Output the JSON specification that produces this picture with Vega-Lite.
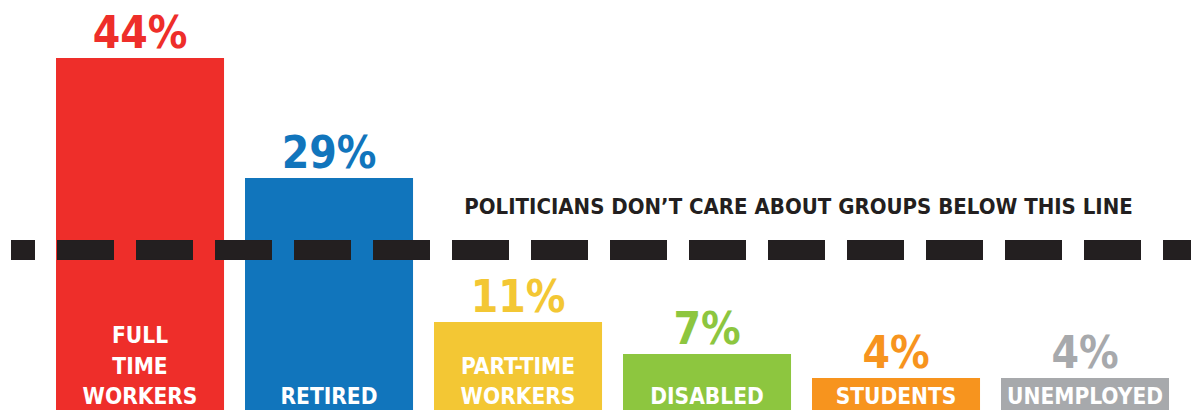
{
  "$schema": "https://vega.github.io/schema/vega-lite/v6.json",
  "width": 1180,
  "height": 410,
  "autosize": {"type": "none"},
  "padding": {"left": 11, "top": 0, "right": 0, "bottom": 0},
  "background": "white",
  "config": {"view": {"stroke": null}},
  "datasets": {
    "groups": [
      {"group": "FULL TIME WORKERS", "pct": 44, "pct_label": "44%"},
      {"group": "RETIRED", "pct": 29, "pct_label": "29%"},
      {"group": "PART-TIME WORKERS", "pct": 11, "pct_label": "11%"},
      {"group": "DISABLED", "pct": 7, "pct_label": "7%"},
      {"group": "STUDENTS", "pct": 4, "pct_label": "4%"},
      {"group": "UNEMPLOYED", "pct": 4, "pct_label": "4%"}
    ],
    "label_lines": [
      {"group": "FULL TIME WORKERS", "text": "FULL", "row": 2},
      {"group": "FULL TIME WORKERS", "text": "TIME", "row": 1},
      {"group": "FULL TIME WORKERS", "text": "WORKERS", "row": 0},
      {"group": "RETIRED", "text": "RETIRED", "row": 0},
      {"group": "PART-TIME WORKERS", "text": "PART-TIME", "row": 1},
      {"group": "PART-TIME WORKERS", "text": "WORKERS", "row": 0},
      {"group": "DISABLED", "text": "DISABLED", "row": 0},
      {"group": "STUDENTS", "text": "STUDENTS", "row": 0},
      {"group": "UNEMPLOYED", "text": "UNEMPLOYED", "row": 0}
    ]
  },
  "data": {"name": "groups"},
  "encoding": {
    "x": {
      "field": "group", "type": "nominal", "sort": null, "axis": null,
      "scale": {
        "domain": ["FULL TIME WORKERS", "RETIRED", "PART-TIME WORKERS", "DISABLED", "STUDENTS", "UNEMPLOYED"],
        "paddingInner": 0.111, "paddingOuter": 0.1772, "align": 0.672
      }
    }
  },
  "layer": [
    {
      "mark": {"type": "bar"},
      "encoding": {
        "y": {"field": "pct", "type": "quantitative", "axis": null, "scale": {"domain": [0, 51.25], "nice": false}},
        "color": {
          "field": "group", "type": "nominal", "legend": null,
          "scale": {
            "domain": ["FULL TIME WORKERS", "RETIRED", "PART-TIME WORKERS", "DISABLED", "STUDENTS", "UNEMPLOYED"],
            "range": ["#EE2E2A", "#1175BC", "#F3C734", "#8DC63F", "#F7941E", "#A7A9AC"]
          }
        }
      }
    },
    {
      "mark": {"type": "rule", "color": "#231F20", "strokeWidth": 19.5, "strokeDash": [57, 22], "strokeDashOffset": 29, "strokeCap": "butt"},
      "encoding": {"y": {"datum": 20}, "x": null}
    },
    {
      "mark": {"type": "text", "font": "DejaVu Sans Condensed, Roboto", "fontWeight": "bold", "fontSize": 44, "baseline": "alphabetic", "dy": -10},
      "encoding": {
        "y": {"field": "pct", "type": "quantitative"},
        "text": {"field": "pct_label"},
        "color": {"field": "group", "type": "nominal", "legend": null}
      }
    },
    {
      "data": {"name": "label_lines"},
      "mark": {"type": "text", "font": "DejaVu Sans Condensed, Roboto", "fontWeight": "bold", "fontSize": 22.5, "baseline": "alphabetic", "dy": -6, "color": "white"},
      "encoding": {
        "y": {"datum": 0},
        "yOffset": {"field": "row", "type": "quantitative", "scale": {"domain": [0, 1], "range": [0, -30.5]}},
        "text": {"field": "text"}
      }
    },
    {
      "data": {"values": [{"note": "POLITICIANS DON’T CARE ABOUT GROUPS BELOW THIS LINE", "anchor": "STUDENTS", "level": 24.5}]},
      "mark": {"type": "text", "font": "DejaVu Sans Condensed, Roboto", "fontWeight": "bold", "fontSize": 22, "baseline": "alphabetic", "align": "center", "dx": -97.5, "color": "#231F20"},
      "encoding": {
        "x": {"field": "anchor", "type": "nominal"},
        "y": {"field": "level", "type": "quantitative"},
        "text": {"field": "note"}
      }
    }
  ]
}
